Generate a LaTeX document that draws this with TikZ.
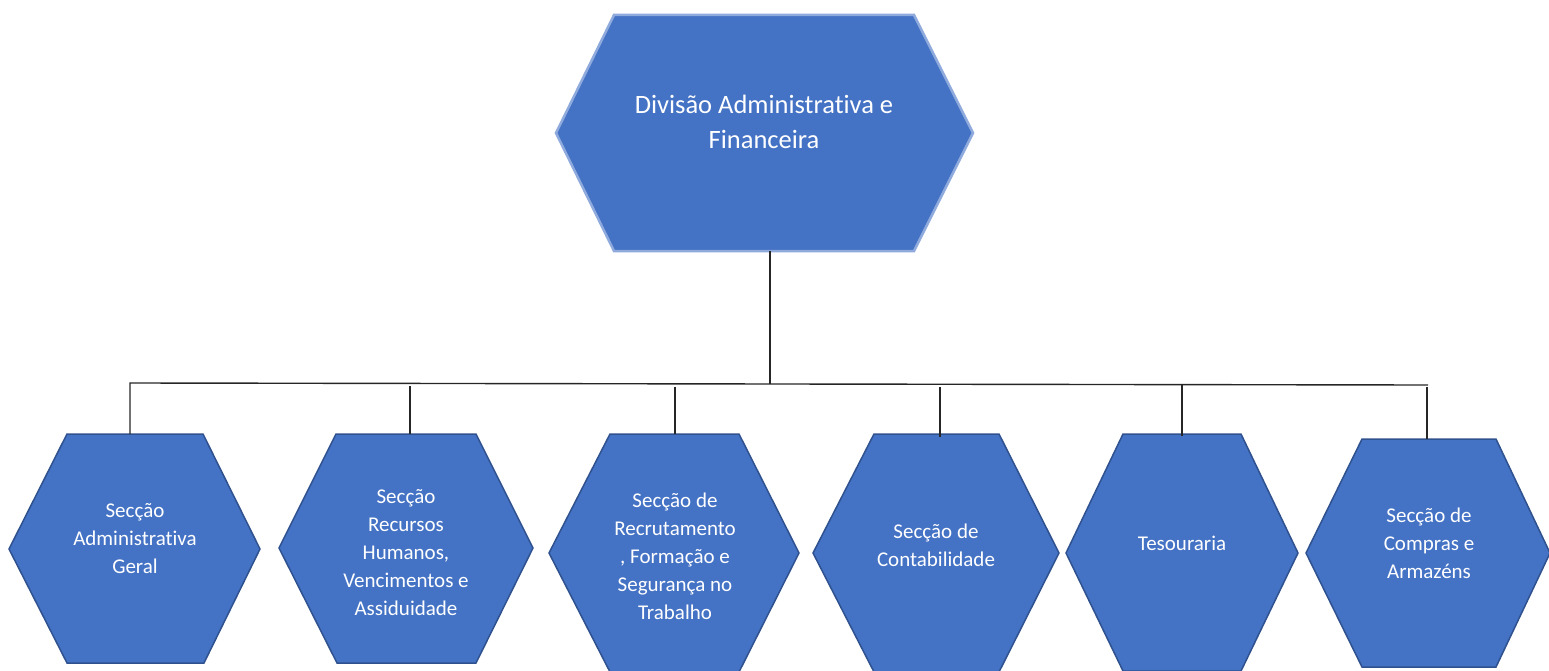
\documentclass[tikz,border=0pt]{standalone}
\usepackage{fontspec}
\setmainfont[Ligatures=NoCommon]{Carlito}
\definecolor{hexfill}{HTML}{4472C4}
\definecolor{hexedge}{HTML}{2F528F}
\definecolor{topedge}{HTML}{8FAADC}
\begin{document}
\begin{tikzpicture}[x=1pt,y=-1pt,
  hexbox/.style={fill=hexfill,draw=hexedge,line width=1.5pt,line join=miter},
  tophex/.style={fill=hexfill,draw=topedge,line width=2.5pt,line join=miter},
  lbl/.style={text=white,align=center,inner sep=0pt,font=\fontsize{21}{28}\selectfont},
  toplbl/.style={text=white,align=center,inner sep=0pt,font=\fontsize{26.5}{35}\selectfont},
  conn/.style={draw=black!85,line width=1.4pt}]
\useasboundingbox (0,0) rectangle (1549,671);
% top hexagon
\draw[tophex] (556,133) -- (614,15) -- (914,15) -- (973,133) -- (914,251) -- (614,251) -- cycle;
\node[toplbl] (top) at (764,122) {Divisão Administrativa e\\Financeira};
\coordinate (topb) at (770,251);
% bottom hexagons
\draw[hexbox] (9,549) -- (67,434) -- (203,434) -- (260,549) -- (204,663) -- (67,663) -- cycle;
\draw[hexbox] (279,548) -- (336,434) -- (476,434) -- (533,548) -- (476,663) -- (337,663) -- cycle;
\draw[hexbox] (549,553) -- (610,434) -- (739,434) -- (799,553) -- (739,672) -- (610,672) -- cycle;
\draw[hexbox] (813,553) -- (874,434) -- (999,434) -- (1059,553) -- (999,672) -- (874,672) -- cycle;
\draw[hexbox] (1066,553) -- (1123,434) -- (1241,434) -- (1298,553) -- (1241,671) -- (1123,671) -- cycle;
\draw[hexbox] (1306,553) -- (1362,439) -- (1496,439) -- (1550,553) -- (1496,667) -- (1362,667) -- cycle;
\node[lbl] (h1) at (135,539) {Secção\\Administrativa\\Geral};
\node[lbl] (h2) at (406,553) {Secção\\Recursos\\Humanos,\\Vencimentos e\\Assiduidade};
\node[lbl] (h3) at (675,556) {Secção de\\Recrutamento\\, Formação e\\Segurança no\\Trabalho};
\node[lbl] (h4) at (936,545) {Secção de\\Contabilidade};
\node[lbl] (h5) at (1182,543) {Tesouraria};
\node[lbl] (h6) at (1429,543) {Secção de\\Compras e\\Armazéns};
% connectors
\coordinate (busl) at (130,383);
\coordinate (busr) at (1428,385);
\coordinate (busm) at (770,384);
\coordinate (d2) at (410,386);
\coordinate (d3) at (675,387);
\coordinate (d4) at (940,387);
\coordinate (d5) at (1182,385);
\coordinate (d6) at (1427,387);
\coordinate (t1) at (130,434);
\coordinate (t2) at (410,434);
\coordinate (t3) at (675,434);
\coordinate (t4) at (940,437);
\coordinate (t5) at (1182,436);
\coordinate (t6) at (1427,439);
\draw[conn] (topb) -- (busm);
\draw[conn] (t1) -- (busl) -- (busr);
\draw[conn] (d2) -- (t2);
\draw[conn] (d3) -- (t3);
\draw[conn] (d4) -- (t4);
\draw[conn] (d5) -- (t5);
\draw[conn] (d6) -- (t6);
\end{tikzpicture}
\end{document}
